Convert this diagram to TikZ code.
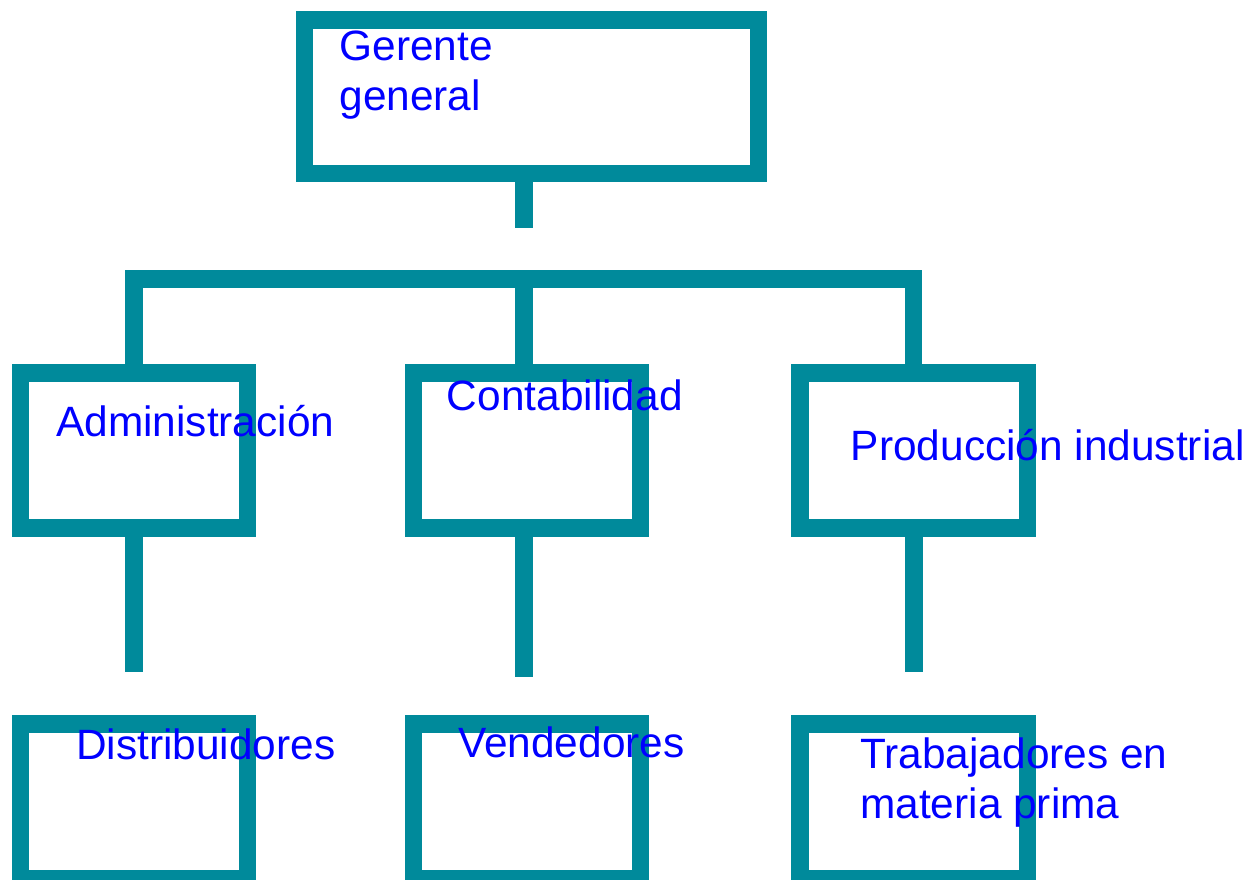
\documentclass[tikz,border=0pt]{standalone}
\usepackage{fontspec}
\setmainfont{Liberation Sans}

\begin{document}
\begin{tikzpicture}[x=0.75pt,y=-0.75pt,
    orgbox/.style={draw=boxcolor,line width=13.1pt,minimum width=170.3pt,minimum height=116pt,inner sep=0pt},
    link/.style={draw=boxcolor,line width=13.1pt},
    boxtext/.style={anchor=base west,inner sep=0pt,text=blue,align=left,font=\fontsize{31.8}{37}\selectfont}]

    \colorlet{boxcolor}{rgb,255:red,0;green,138;blue,155}

    \useasboundingbox (0,0) rectangle (1251,879);
    \clip (0,0) rectangle (1251,879);

    % boxes
    \node[orgbox,minimum width=340.5pt,minimum height=115.4pt] (gerente) at (531.3,96.8) {};

    \node[orgbox] (admin) at (133.8,450.5) {};
    \node[orgbox] (conta) at (526.8,450.5) {};
    \node[orgbox] (prod) at (913.7,450.5) {};

    \node[orgbox] (distrib) at (133.8,801.5) {};
    \node[orgbox] (vend) at (526.8,801.5) {};
    \node[orgbox] (trab) at (913.7,801.5) {};

    % connectors
    \coordinate (gerenteend) at (524,227.7);
    \coordinate (bar) at (524,278.9);
    \coordinate (adminend) at (133.8,671.7);
    \coordinate (contaend) at (524,677);
    \coordinate (prodend) at (913.8,671.7);

    \draw[link] (gerente.south -| gerenteend) -- (gerenteend);
    \draw[link] (admin.north) |- (bar) -| (prod.north);
    \draw[link] (bar) -- (bar |- conta.north);

    \draw[link] (admin.south) -- (adminend);
    \draw[link] (conta.south -| contaend) -- (contaend);
    \draw[link] (prod.south -| prodend) -- (prodend);

    % texts (base = last line)
    \node[boxtext] (gerentetext) at (339.3,110) {Gerente\\general};
    \node[boxtext] (admintext) at (56,436) {Administración};
    \node[boxtext] (contatext) at (446.7,410) {Contabilidad};
    \node[boxtext] (prodtext) at (850.7,460) {Producción industrial};
    \node[boxtext] (distribtext) at (76,759.3) {Distribuidores};
    \node[boxtext] (vendtext) at (458,757) {Vendedores};
    \node[boxtext] (trabtext) at (860,818.3) {Trabajadores en\\materia prima};

\end{tikzpicture}
\end{document}
